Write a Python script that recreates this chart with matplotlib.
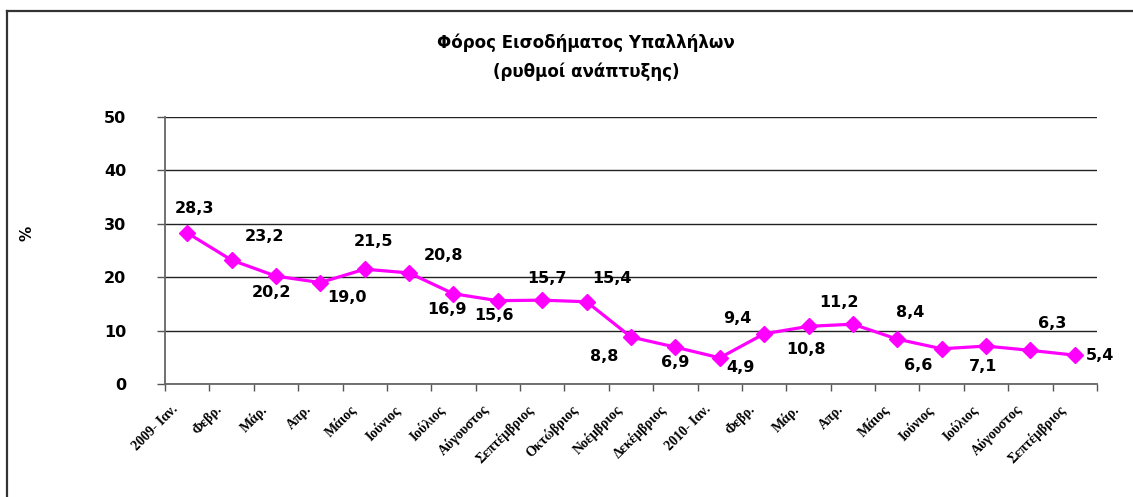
import matplotlib
matplotlib.use('Agg')
import matplotlib.pyplot as plt
import matplotlib.transforms as mtransforms
from matplotlib.lines import Line2D
import numpy as np

categories = ['2009- Ιαν.', 'Φεβρ.', 'Μάρ.', 'Απρ.', 'Μάιος', 'Ιούνιος', 'Ιούλιος',
              'Αύγουστος', 'Σεπτέμβριος', 'Οκτώβριος', 'Νοέμβριος', 'Δεκέμβριος',
              '2010- Ιαν.', 'Φεβρ.', 'Μάρ.', 'Απρ.', 'Μάιος', 'Ιούνιος', 'Ιούλιος',
              'Αύγουστος', 'Σεπτέμβριος']
values = [28.3, 23.2, 20.2, 19.0, 21.5, 20.8, 16.9, 15.6, 15.7, 15.4, 8.8,
          6.9, 4.9, 9.4, 10.8, 11.2, 8.4, 6.6, 7.1, 6.3, 5.4]
value_labels = ['28,3', '23,2', '20,2', '19,0', '21,5', '20,8', '16,9', '15,6',
                '15,7', '15,4', '8,8', '6,9', '4,9', '9,4', '10,8', '11,2',
                '8,4', '6,6', '7,1', '6,3', '5,4']
# label offsets in pixels (dx right, dy up)
label_offsets = [(7, 24), (33, 24), (-4, -16), (27, -15), (9, 28), (34, 17),
                 (-7, -16), (-4, -15), (5, 22), (25, 23), (-27, -19), (0, -15),
                 (21, -10), (-27, 15), (-3, -23), (-14, 22), (13, 27),
                 (-23, -17), (-3, -20), (22, 27), (25, 0)]
y_ticks = [0, 10, 20, 30, 40, 50]
title_line1 = 'Φόρος Εισοδήματος Υπαλλήλων'
title_line2 = '(ρυθμοί ανάπτυξης)'
y_label = '%'

W, H = 1133, 497
fig = plt.figure(figsize=(W / 100, H / 100), dpi=100)
fig.patch.set_facecolor('white')

# outer frame (top and left visible)
fig.add_artist(Line2D([7 / W, 7 / W], [0, 1 - 10.5 / H], transform=fig.transFigure,
                      color='#333333', lw=1.6))
fig.add_artist(Line2D([7 / W, 1], [1 - 10.5 / H, 1 - 10.5 / H], transform=fig.transFigure,
                      color='#333333', lw=1.6))

left, right, bottom, top = 165, 1097, 384, 117
ax = fig.add_axes([left / W, 1 - bottom / H, (right - left) / W, (bottom - top) / H])

x = np.arange(len(values))
ax.plot(x, values, color='#FF00FF', lw=2.3, marker='D', markersize=8.5,
        markerfacecolor='#FF00FF', markeredgecolor='#FF00FF', zorder=3)

for xi, v, lab, (dx, dy) in zip(x, values, value_labels, label_offsets):
    ax.annotate(lab, (xi, v), xytext=(dx, dy), textcoords='offset pixels',
                ha='center', va='center', fontsize=11.5, fontweight='bold',
                family='DejaVu Sans', color='black', zorder=4)

ax.set_xlim(-0.5, len(values) - 0.5)
ax.set_ylim(0, 50)
ax.set_yticks(y_ticks)
ax.set_yticklabels([str(t) for t in y_ticks], fontsize=11.5, fontweight='bold',
                   family='DejaVu Sans')
ax.tick_params(axis='y', length=6, width=1, color='#555555', pad=22, direction='out')

ax.set_xticks(x)
ax.set_xticklabels(categories, rotation=45, ha='right', va='center',
                   rotation_mode='anchor', fontsize=10, fontweight='bold',
                   family='Liberation Serif')
ax.tick_params(axis='x', which='major', length=0, pad=17)
ax.set_xticks(np.arange(-0.5, len(values), 1), minor=True)
ax.tick_params(axis='x', which='minor', length=5, width=1, color='#555555', direction='out')
offset = mtransforms.ScaledTranslation(-11 / 100, 0, fig.dpi_scale_trans)
for lbl in ax.get_xticklabels():
    lbl.set_transform(lbl.get_transform() + offset)

ax.yaxis.grid(True, color='#222222', lw=1)
ax.set_axisbelow(True)
for s in ['top', 'right']:
    ax.spines[s].set_visible(False)
for s in ['left', 'bottom']:
    ax.spines[s].set_color('#666666')
    ax.spines[s].set_linewidth(1.3)

fig.text(27 / W, 1 - 233 / H, y_label, rotation=90, ha='center', va='center',
         fontsize=11, fontweight='bold', family='DejaVu Sans')
fig.text(586 / W, 1 - 43 / H, title_line1, ha='center', va='center',
         fontsize=12, fontweight='bold', family='DejaVu Sans')
fig.text(586 / W, 1 - 72 / H, title_line2, ha='center', va='center',
         fontsize=12, fontweight='bold', family='DejaVu Sans')

fig.savefig('out.png', dpi=100)
